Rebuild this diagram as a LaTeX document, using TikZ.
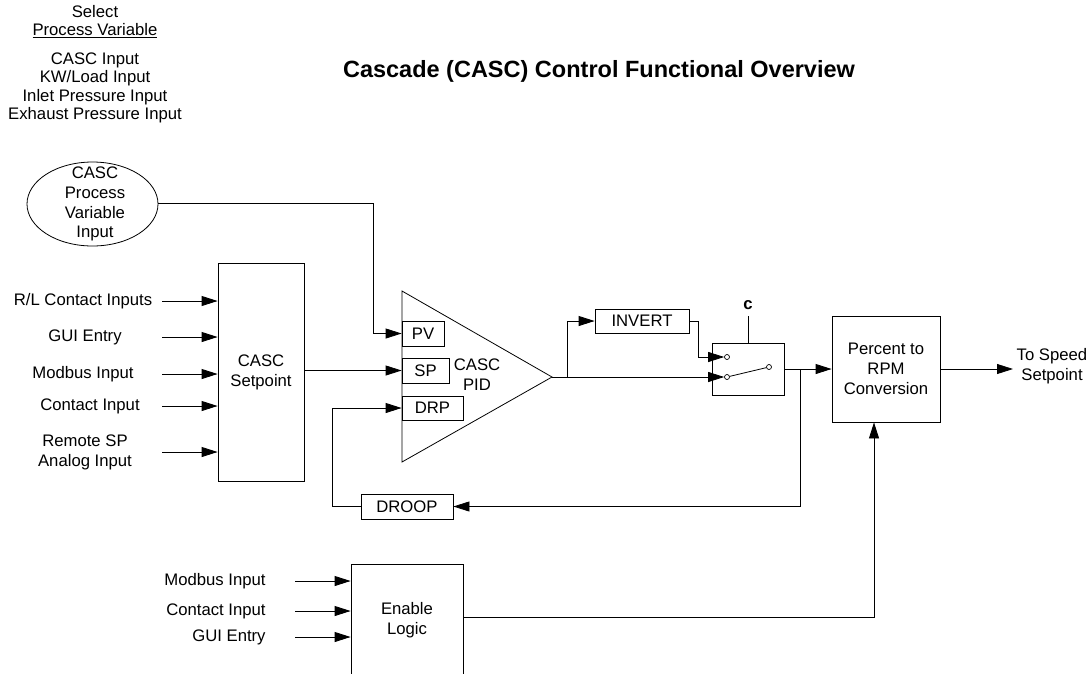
\documentclass[tikz,border=0pt]{standalone}
\usepackage{fontspec}
\setmainfont{Liberation Sans}
\usetikzlibrary{arrows.meta,shapes.geometric,positioning}

\begin{document}
\begin{tikzpicture}[x=1pt, y=-1pt, line width=0.8pt,
        every node/.style={font=\fontsize{16.7}{20}\selectfont, inner sep=0pt, align=center},
        blk/.style={draw, line width=0.8pt},
        arr/.style={-{Triangle[length=16pt,width=10pt]}},
        pin/.style={circle, draw, fill=white, line width=0.7pt, minimum size=5pt}]
        \clip (0,0) rectangle (1090,673);
        % title and process variable list
        \node[font=\bfseries\fontsize{23.5}{28}\selectfont] (title) at (599,71) {Cascade (CASC) Control Functional Overview};
        \node (sel) at (95,12) {Select};
        \node (selpv) at (95,31) {\underline{Process Variable}};
        \foreach \i/\t/\y in {1/CASC Input/60, 2/KW\slash Load Input/78, 3/Inlet Pressure Input/97, 4/Exhaust Pressure Input/115} {
            \node (opt\i) at (95,\y) {\t};
        }
        \node[draw, ellipse, minimum width=131pt, minimum height=84pt] (pvin) at (92.5,204) {};
        \node[font=\fontsize{16.7}{19.8}\selectfont] (pvtxt) at (95,204) {CASC\\Process\\Variable\\Input};

        % setpoint block
        \node[blk, minimum width=86pt, minimum height=218pt] (setp) at (261,372) {CASC\\Setpoint};
        \foreach \i/\t/\x/\y in {1/R\slash L Contact Inputs/83/301, 2/GUI Entry/85/337, 3/Modbus Input/83/374, 4/Contact Input/90/406, 5/Remote SP\\Analog Input/85/452} {
            \node (sin\i) at (\x,\y) {\t};
            \coordinate (sst\i) at (162,\y);
            \draw[arr] (sst\i) -- (sst\i -| setp.west);
        }

        % PID
        \coordinate (tA) at (402,291);
        \coordinate (tB) at (402,462);
        \coordinate (tip) at (552,377);
        \draw (tA) -- (tip) -- (tB) -- cycle;
        \node[blk, minimum width=42pt, minimum height=25pt] (pv) at (423,333.5) {PV};
        \node[blk, minimum width=47pt, minimum height=25pt] (sp) at (425.5,370.5) {SP};
        \node[blk, minimum width=61pt, minimum height=24pt] (drp) at (432.5,408) {DRP};
        \node (pid) at (477,375) {CASC\\PID};

        \coordinate (pvturn) at (373,203);
        \draw[arr] (pvin.east |- pvturn) -- (pvturn) |- (pv.west);
        \draw[arr] (sp.west -| setp.east) -- (sp.west);

        % invert and switch
        \node[blk, minimum width=94pt, minimum height=24pt] (inv) at (642,321) {INVERT};
        \node[blk, minimum width=72pt, minimum height=52pt] (sw) at (748,369) {};
        \node[pin] (s1) at (727,357) {};
        \node[pin] (s2) at (727,377) {};
        \node[pin] (s3) at (769,367) {};
        \draw (s2) -- (s3);
        \coordinate (br) at (567,377);
        \coordinate (invturn) at (698,321);
        \draw (tip) -- (br);
        \draw[arr] (br) -- (s2.west);
        \draw[arr] (br) |- (inv.west);
        \draw[arr] (inv.east) -- (invturn) |- (s1.west);
        \node[font=\bfseries\fontsize{16.7}{20}\selectfont, anchor=base] (cl) at (748,309) {c};
        \coordinate (ctop) at (748,316);
        \draw (sw.north) -- (ctop);

        % conversion
        \node[blk, minimum width=108pt, minimum height=106pt] (pct) at (886,369) {Percent to\\RPM\\Conversion};
        \draw[arr] (sw.east) -- (pct.west);
        \coordinate (spd) at (1013,369);
        \draw[arr] (pct.east) -- (spd);
        \node (tospd) at (1052,366) {To Speed\\Setpoint};

        % droop feedback
        \node[blk, minimum width=92pt, minimum height=25pt] (droop) at (407,506.5) {DROOP};
        \coordinate (dbr) at (800,369);
        \coordinate (dleft) at (332,506.5);
        \draw[arr] (dbr) |- (droop.east);
        \draw[arr] (droop.west) -- (dleft) |- (drp.west);

        % enable logic
        \node[blk, minimum width=112pt, minimum height=140pt] (en) at (407,634) {};
        \node (entxt) at (407,620) {Enable\\Logic};
        \foreach \i/\t/\y in {1/Modbus Input/581, 2/Contact Input/611, 3/GUI Entry/637} {
            \node[anchor=east] (ein\i) at (266,\y) {\t};
            \coordinate (est\i) at (295,\y);
            \draw[arr] (est\i) -- (est\i -| en.west);
        }
        \coordinate (enturn) at (874,617);
        \draw[arr] (en.east |- enturn) -- (enturn) -- (enturn |- pct.south);
    \end{tikzpicture}
\end{document}
